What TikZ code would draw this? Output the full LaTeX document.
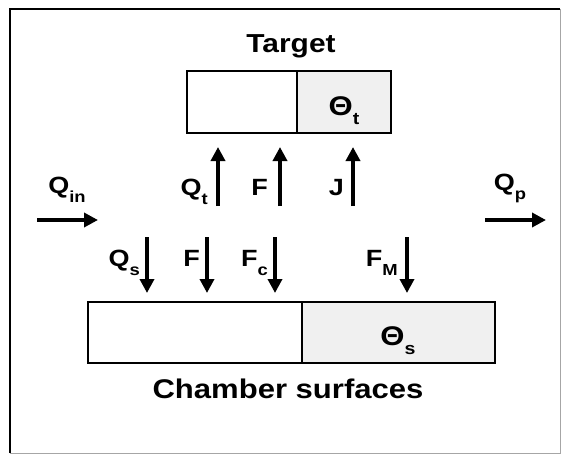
\documentclass[tikz,border=0pt]{standalone}
\usepackage{fontspec}
\setmainfont[FakeStretch=1.15]{Liberation Sans}
\usetikzlibrary{arrows.meta}
\newcommand\qlbl[2]{{\fontsize{23.5}{24}\selectfont #1}\raisebox{-9pt}{\fontsize{16}{16}\selectfont #2}}
\newcommand\thlbl[1]{{\fontsize{27}{27}\selectfont Θ}\raisebox{-9pt}{\fontsize{17}{17}\selectfont #1}}
\tikzset{
  cell/.style={draw=black, line width=1.1pt, rectangle, inner sep=0pt},
  dotted cell/.style={cell, fill=black!6},
  flow/.style={line width=3.8pt, -{Triangle[length=14pt,width=14pt]}, shorten >=-1pt},
  lbl/.style={anchor=base east, inner sep=0pt, font=\bfseries},
  title/.style={font=\bfseries, inner sep=0pt, anchor=base}
}
\begin{document}
\begin{tikzpicture}[x=1pt, y=-1pt]
  \useasboundingbox (0,0) rectangle (562,455);
  % outer frame: heavy left/top edges, faint right/bottom edges
  \draw[black!35, line width=0.8pt] (560,9) -- (560,453) -- (10,453);
  \draw[black, line width=2.6pt] (10,453) -- (10,9) -- (560,9);

  % target
  \node[title, font=\bfseries\fontsize{26}{26}\selectfont] (ttitle) at (291,52) {Target};
  \node[cell, minimum width=110pt, minimum height=62pt] (tl) at (242,102) {};
  \node[dotted cell, minimum width=94pt, minimum height=62pt] (tr) at (344,102) {};
  \node[anchor=base, inner sep=0pt, font=\bfseries] (thetat) at (344,115) {\thlbl{t}};

  % chamber surfaces
  \node[cell, minimum width=214pt, minimum height=61pt] (cl) at (195,332.5) {};
  \node[dotted cell, minimum width=193pt, minimum height=61pt] (cr) at (398.5,332.5) {};
  \node[anchor=base, inner sep=0pt, font=\bfseries] (thetas) at (398,345) {\thlbl{s}};
  \node[title, font=\bfseries\fontsize{27}{27}\selectfont] (ctitle) at (288,398) {Chamber surfaces};

  % inflow / pumped flow
  \coordinate (inA) at (37,220);  \coordinate (inB) at (97,220);
  \coordinate (pA) at (485,220);  \coordinate (pB) at (545,220);
  \draw[flow] (inA) -- (inB);
  \draw[flow] (pA) -- (pB);
  \node[anchor=base, inner sep=0pt, font=\bfseries] (qin) at (67,193) {\qlbl{Q}{in}};
  \node[anchor=base, inner sep=0pt, font=\bfseries] (qp) at (510,190) {\qlbl{Q}{p}};

  % fluxes to the target
  \foreach \n/\x in {u1/218, u2/280, u3/353} {
    \coordinate (\n a) at (\x,206);
    \coordinate (\n b) at (\x,148);
    \draw[flow] (\n a) -- (\n b);
  }
  \node[lbl] (lqt) at (208,195) {\qlbl{Q}{t}};
  \node[lbl] (lf1) at (268,195) {\qlbl{F}{}};
  \node[lbl] (lj) at (344,195) {\qlbl{J}{}};

  % fluxes to the chamber surfaces
  \foreach \n/\x in {d1/147, d2/207, d3/275, d4/407} {
    \coordinate (\n a) at (\x,237);
    \coordinate (\n b) at (\x,292);
    \draw[flow] (\n a) -- (\n b);
  }
  \node[lbl] (lqs) at (140,266) {\qlbl{Q}{s}};
  \node[lbl] (lf2) at (200,266) {\qlbl{F}{}};
  \node[lbl] (lfc) at (268,266) {\qlbl{F}{c}};
  \node[lbl] (lfm) at (398,266) {\qlbl{F}{M}};
\end{tikzpicture}
\end{document}
